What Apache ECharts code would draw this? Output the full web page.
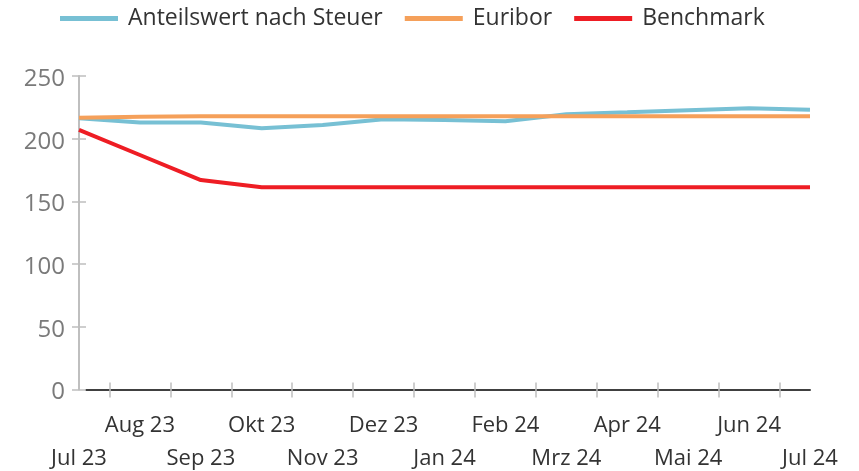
<!DOCTYPE html>
<html>
<head>
<meta charset="utf-8">
<script src="https://cdn.jsdelivr.net/npm/echarts@6/dist/echarts.min.js"></script>
<style>
  html, body { margin: 0; padding: 0; background: #fff; }
  #chart { width: 859px; height: 471px; }
</style>
</head>
<body>
<div id="chart"></div>
<script>
const months = ['Jul 23', 'Aug 23', 'Sep 23', 'Okt 23', 'Nov 23', 'Dez 23', 'Jan 24',
  'Feb 24', 'Mrz 24', 'Apr 24', 'Mai 24', 'Jun 24', 'Jul 24'];
const anteilswert = [216.3, 213, 213, 208.3, 211, 215.5, 215, 214, 219.5, 221, 222.6, 224.2, 223];
const euribor = [216.7, 217.5, 218, 218, 218, 218, 218, 218, 218, 218, 218, 218, 218];
const benchmark = [207, 187, 167, 161.2, 161.2, 161.2, 161.2, 161.2, 161.2, 161.2, 161.2, 161.2, 161.2];
const yTicks = [0, 50, 100, 150, 200, 250];

const font = '"Open Sans", "DejaVu Sans", sans-serif';
const tickGray = '#bfbfbf';
// band categories between the months, only used to place ticks halfway
const gaps = months.slice(1);

const chart = echarts.init(document.getElementById('chart'));

const option = {
  animation: false,
  color: ['#77c0d4', '#f5a05a', '#ee1d24'],
  legend: {
    left: 60,
    top: 7,
    padding: 0,
    icon: 'rect',
    itemWidth: 58,
    itemHeight: 5,
    itemGap: 22,
    textStyle: { fontFamily: font, fontSize: 23, color: '#333', padding: [0, 0, 0, 5] },
    data: ['Anteilswert nach Steuer', 'Euribor', 'Benchmark']
  },
  grid: [
    { left: 79, right: 49, top: 76, bottom: 81.5, outerBoundsMode: 'none' },
    { left: 86, right: 49, top: 76, bottom: 81.5, outerBoundsMode: 'none' }
  ],
  xAxis: [
    {
      type: 'category',
      gridIndex: 0,
      data: months,
      boundaryGap: false,
      axisLine: { show: false },
      axisTick: { show: false },
      axisLabel: {
        interval: 0,
        margin: 20,
        fontFamily: font,
        fontSize: 22,
        color: '#333',
        lineHeight: 33,
        formatter: (v, i) => (i % 2 === 1 ? v : '\n' + v)
      }
    },
    {
      type: 'category',
      gridIndex: 0,
      position: 'bottom',
      data: gaps,
      boundaryGap: true,
      axisLine: { show: false },
      axisLabel: { show: false },
      axisTick: { show: true, alignWithLabel: true, length: 8, lineStyle: { color: tickGray, width: 1.5 } }
    },
    {
      type: 'category',
      gridIndex: 0,
      position: 'bottom',
      data: gaps,
      boundaryGap: true,
      axisLine: { show: false },
      axisLabel: { show: false },
      axisTick: { show: true, inside: true, alignWithLabel: true, length: 7, lineStyle: { color: tickGray, width: 1.5 } }
    },
    {
      type: 'category',
      gridIndex: 1,
      data: months,
      axisLine: { show: true, lineStyle: { color: '#404040', width: 2 } },
      axisTick: { show: false },
      axisLabel: { show: false }
    }
  ],
  yAxis: [
    {
      type: 'value',
      gridIndex: 0,
      min: yTicks[0],
      max: yTicks[yTicks.length - 1],
      interval: 50,
      splitLine: { show: false },
      axisLine: { show: true, lineStyle: { color: tickGray, width: 2 } },
      axisTick: { show: true, length: 7, lineStyle: { color: tickGray, width: 1.5 } },
      axisLabel: { margin: 14, fontFamily: font, fontSize: 24, color: '#7a7a7a', verticalAlign: 'top', lineHeight: 6 }
    },
    {
      type: 'value',
      gridIndex: 0,
      position: 'left',
      min: yTicks[0],
      max: yTicks[yTicks.length - 1],
      interval: 50,
      splitLine: { show: false },
      axisLine: { show: false },
      axisLabel: { show: false },
      axisTick: { show: true, inside: true, length: 7, lineStyle: { color: tickGray, width: 1.5 } }
    },
    {
      type: 'value',
      gridIndex: 1,
      min: 0,
      max: 250,
      show: false
    }
  ],
  series: [
    { name: 'Anteilswert nach Steuer', type: 'line', data: anteilswert, symbol: 'none', lineStyle: { width: 4 } },
    { name: 'Euribor', type: 'line', data: euribor, symbol: 'none', lineStyle: { width: 4 } },
    { name: 'Benchmark', type: 'line', data: benchmark, symbol: 'none', lineStyle: { width: 4 } }
  ]
};

chart.setOption(option);
</script>
</body>
</html>
